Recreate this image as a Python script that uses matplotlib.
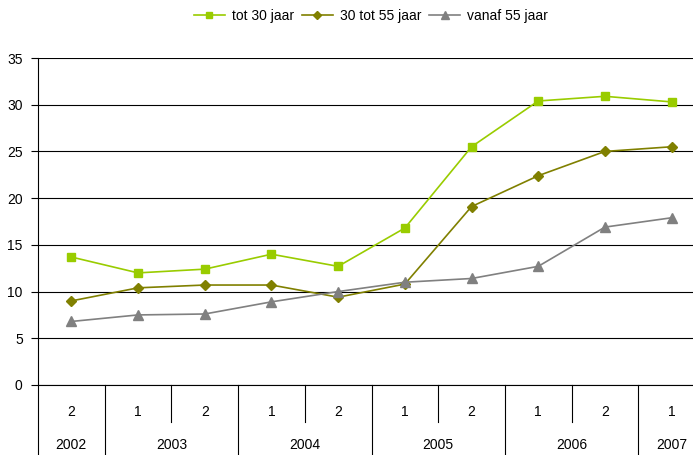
import matplotlib
matplotlib.use("Agg")
import matplotlib.pyplot as plt
import matplotlib.transforms as mtransforms

plt.rcParams['font.family'] = ['Liberation Sans', 'DejaVu Sans']

# Semesters (half-year) and their years
semesters = ["2", "1", "2", "1", "2", "1", "2", "1", "2", "1"]
years = ["2002", "2003", "2004", "2005", "2006", "2007"]
year_spans = [(0, 1), (1, 3), (3, 5), (5, 7), (7, 9), (9, 10)]

# Series values per semester
tot_30 = [13.7, 12.0, 12.4, 14.0, 12.7, 16.8, 25.5, 30.4, 30.9, 30.3]
tot_30_55 = [9.0, 10.4, 10.7, 10.7, 9.4, 10.8, 19.1, 22.4, 25.0, 25.5]
vanaf_55 = [6.8, 7.5, 7.6, 8.9, 10.0, 11.0, 11.4, 12.7, 16.9, 17.9]

series = [
    ("tot 30 jaar", tot_30, "#99CC00", "s", 5.5),
    ("30 tot 55 jaar", tot_30_55, "#808000", "D", 5.0),
    ("vanaf 55 jaar", vanaf_55, "#808080", "^", 6.5),
]

W, H = 693, 455
fig = plt.figure(figsize=(W / 100, H / 100), dpi=100)
left_px, right_px, top_px, bottom_px = 38, 705, 58, 385
ax = fig.add_axes([left_px / W, (H - bottom_px) / H,
                   (right_px - left_px) / W, (bottom_px - top_px) / H])

x = list(range(len(semesters)))
for label, vals, color, marker, ms in series:
    ax.plot(x, vals, color=color, marker=marker, markersize=ms, linewidth=1.2,
            markeredgecolor=color, label=label, clip_on=False, zorder=3)

ax.set_xlim(-0.5, len(semesters) - 0.5)
ax.set_ylim(0, 35)
ax.set_yticks(range(0, 36, 5))
ax.yaxis.grid(True, color="black", linewidth=0.8)
ax.set_axisbelow(True)
for s in ("top", "right"):
    ax.spines[s].set_visible(False)
ax.spines["left"].set_linewidth(0.8)
ax.spines["bottom"].set_linewidth(0.8)
ax.tick_params(axis="y", direction="out", length=5, width=0.8, labelsize=10, pad=6)
ax.set_xticks([])

# Two-level category axis below the plot
trans = mtransforms.blended_transform_factory(ax.transData, ax.transAxes)
y_short = (bottom_px - 422) / (bottom_px - top_px)
y_long = (bottom_px - 456) / (bottom_px - top_px)
y_sem = (bottom_px - 412) / (bottom_px - top_px)
y_year = (bottom_px - 445) / (bottom_px - top_px)

year_edges = sorted(set(e for span in year_spans for e in span))
for i in range(len(semesters) + 1):
    xb = i - 0.5
    if i in year_edges:
        ax.plot([xb, xb], [0, y_long], color="black", lw=0.8, transform=trans, clip_on=False)
    else:
        ax.plot([xb, xb], [0, y_short], color="black", lw=0.8, transform=trans, clip_on=False)

for i, s in enumerate(semesters):
    ax.text(i, y_sem, s, transform=trans, ha="center", va="center", fontsize=10)
for yr, (a, b) in zip(years, year_spans):
    ax.text((a + b - 1) / 2, y_year, yr, transform=trans, ha="center", va="center", fontsize=10)

fig.legend(loc="center", bbox_to_anchor=(371 / W, 1 - 16 / H), ncol=3, frameon=False,
           fontsize=10, handlelength=2.2, handletextpad=0.5, columnspacing=0.6,
           numpoints=1, markerscale=0.9)

fig.savefig("out.png", dpi=100)
